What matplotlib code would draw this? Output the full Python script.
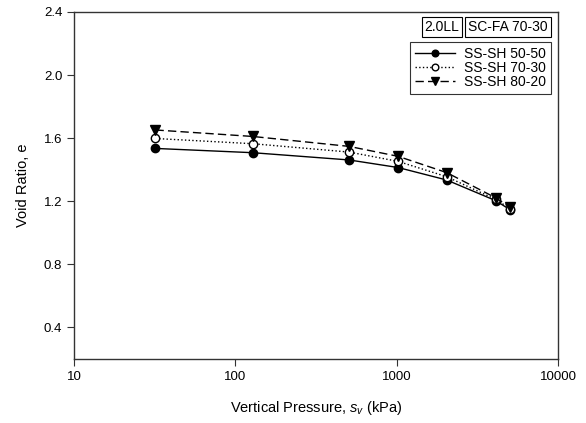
import numpy as np
import matplotlib.pyplot as plt

plt.rcParams['font.family'] = ['Liberation Sans', 'DejaVu Sans']
plt.rcParams['mathtext.fontset'] = 'custom'
plt.rcParams['mathtext.it'] = 'Liberation Sans:italic'

# vertical pressure (kPa)
pressure = [32, 128, 507, 1020, 2040, 4110, 5050]

# void ratio for each mixture
e_50_50 = [1.535, 1.508, 1.462, 1.414, 1.335, 1.204, 1.146]
e_70_30 = [1.598, 1.565, 1.512, 1.453, 1.356, 1.212, 1.153]
e_80_20 = [1.652, 1.611, 1.548, 1.485, 1.382, 1.222, 1.162]
labels = ['SS-SH 50-50', 'SS-SH 70-30', 'SS-SH 80-20']

fig = plt.figure(figsize=(5.86, 4.23), dpi=100)
ax = fig.add_axes([74/586, 1-359/423, (558-74)/586, (359-12)/423])

ax.plot(pressure, e_50_50, 'k-', marker='o', ms=6, lw=1.0, label=labels[0])
ax.plot(pressure, e_70_30, 'k:', marker='o', ms=6, lw=1.0, mfc='white', label=labels[1])
ax.plot(pressure, e_80_20, 'k--', marker='v', ms=6.5, lw=1.0, dashes=(6, 3), label=labels[2])

ax.set_xscale('log')
ax.set_xlim(10, 10000)
ax.set_ylim(0.2, 2.4)
ax.set_xticks([10, 100, 1000, 10000])
ax.set_xticklabels(['10', '100', '1000', '10000'])
ax.xaxis.set_minor_locator(plt.NullLocator())
ax.set_yticks([0.4, 0.8, 1.2, 1.6, 2.0, 2.4])
ax.set_yticklabels(['0.4', '0.8', '1.2', '1.6', '2.0', '2.4'])
ax.tick_params(direction='out', length=5, labelsize=9.5, color='#333333')
for s in ax.spines.values():
    s.set_color('#333333')
    s.set_linewidth(1.0)

ax.set_xlabel(r'Vertical Pressure, $\mathit{s}_{\mathit{v}}$ (kPa)', fontsize=10.5, labelpad=12)
ax.set_ylabel('Void Ratio, e', fontsize=10.5, labelpad=10)

box = dict(boxstyle='square,pad=0.22', fc='white', ec='k', lw=0.8)
ax.text(442/586, 1-27/423, '2.0LL', transform=fig.transFigure, fontsize=10,
        ha='center', va='center', bbox=box)
ax.text(508/586, 1-27/423, 'SC-FA 70-30', transform=fig.transFigure, fontsize=10,
        ha='center', va='center', bbox=box)

leg = ax.legend(loc='upper right', bbox_to_anchor=(551/586, 1-42/423),
                bbox_transform=fig.transFigure, fontsize=10, frameon=True,
                fancybox=False, edgecolor='k', borderpad=0.35, labelspacing=0.0,
                handlelength=2.9, handletextpad=0.65, borderaxespad=0,
                markerscale=0.8)
leg.get_frame().set_linewidth(0.8)

fig.savefig('out.png', dpi=100)
